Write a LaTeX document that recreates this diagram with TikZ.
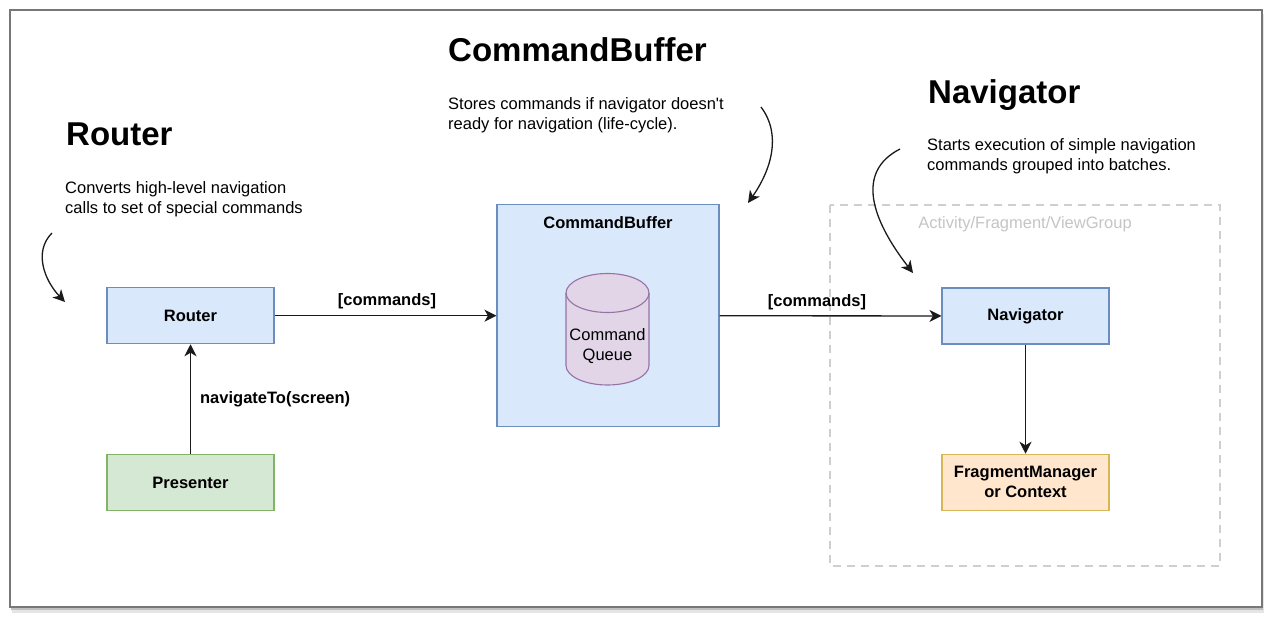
\documentclass[tikz,border=0pt]{standalone}
\usepackage{fontspec}
\setmainfont{Liberation Sans}
\usetikzlibrary{arrows.meta}
\definecolor{blueF}{HTML}{DAE8FC}
\definecolor{blueS}{HTML}{6C8EBF}
\definecolor{greenF}{HTML}{D5E8D4}
\definecolor{greenS}{HTML}{82B366}
\definecolor{orangeF}{HTML}{FFE6CC}
\definecolor{orangeS}{HTML}{D6B656}
\definecolor{purpF}{HTML}{E1D5E7}
\definecolor{purpS}{HTML}{9673A6}
\definecolor{frameC}{HTML}{777777}
\definecolor{dashC}{HTML}{CFCFCF}
\definecolor{lineC}{HTML}{1A1A1A}
\newcommand{\straightquote}{\XeTeXglyph\XeTeXcharglyph"0027\relax}
\tikzset{
  basefont/.style={font=\fontsize{16.5}{20}\selectfont},
  titletext/.style={font=\fontsize{33}{40}\selectfont\bfseries, anchor=base west, inner sep=0pt},
  desctext/.style={basefont, anchor=base west, inner sep=0pt},
  box/.style={draw, line width=1.1pt, minimum width=167pt, minimum height=56pt, inner sep=0pt,
    font=\fontsize{16.5}{20}\selectfont\bfseries, align=center},
  bluebox/.style={box, fill=blueF, draw=blueS},
  greenbox/.style={box, fill=greenF, draw=greenS},
  orangebox/.style={box, fill=orangeF, draw=orangeS},
  tipstyle/.style={-{Stealth[length=12pt,width=12pt,inset=3.5pt]}},
  conn/.style={draw=lineC, line width=1.3pt, tipstyle},
  curv/.style={draw=lineC, line width=1.3pt, tipstyle},
  elabel/.style={font=\fontsize{16.5}{20}\selectfont\bfseries, inner sep=0pt},
}
\begin{document}
\begin{tikzpicture}[x=1pt,y=-1pt]
\useasboundingbox (0,0) rectangle (1280,626);
\fill[white] (0,0) rectangle (1280,626);
% frame with shadow
\fill[black!10] (12,14) rectangle (1264,613);
\fill[black!25] (11,11) rectangle (1263,610);
\draw[frameC, line width=1.5pt, fill=white] (10,10) rectangle (1262,607);

% titles
\node[titletext] (tRouter) at (66,145) {Router};
\node[titletext] (tCB) at (448,61.5) {CommandBuffer};
\node[titletext] (tNav) at (928,103) {Navigator};

% descriptions
\node[desctext] (dR1) at (65,193) {Converts high-level navigation};
\node[desctext] (dR2) at (65,213) {calls to set of special commands};
\node[desctext] (dC1) at (448,109.5) {Stores commands if navigator doesn\straightquote t};
\node[desctext] (dC2) at (448,129.5) {ready for navigation (life-cycle).};
\node[desctext] (dN1) at (927,150.5) {Starts execution of simple navigation};
\node[desctext] (dN2) at (927,170) {commands grouped into batches.};

% dashed group
\draw[dashC, line width=1.8pt, dash pattern=on 8pt off 6pt] (830,205) rectangle (1220,566);
\node[basefont, text=dashC!95!black, inner sep=0pt] (grp) at (1025,224) {Activity/Fragment/ViewGroup};

% command buffer container
\node[draw=blueS, fill=blueF, line width=1.1pt, minimum width=222pt, minimum height=222pt, inner sep=0pt] (cb) at (608,315.7) {};
\node[font=\fontsize{16.5}{20}\selectfont\bfseries, inner sep=0pt] (cbl) at (608,223) {CommandBuffer};

% cylinder
\draw[draw=purpS, fill=purpF, line width=1.1pt]
  (566,293) -- (566,365.5) arc[start angle=180, end angle=0, x radius=41.5, y radius=19.5]
  -- (649,293) arc[start angle=0, end angle=-180, x radius=41.5, y radius=19.5] -- cycle;
\draw[draw=purpS, line width=1.1pt] (566,293) arc[start angle=180, end angle=0, x radius=41.5, y radius=19.5];
\node[basefont, align=center, inner sep=0pt] (queue) at (607.5,346) {Command\\Queue};

% boxes
\node[bluebox] (router) at (190.5,315.7) {Router};
\node[greenbox] (presenter) at (190.5,482.5) {Presenter};
\node[bluebox] (nav) at (1025.5,316) {Navigator};
\node[orangebox] (fm) at (1025.5,482.3) {FragmentManager\\or Context};

% connectors
\draw[conn] (router) -- node[elabel, pos=0.5, yshift=14pt, xshift=1.5pt] {[commands]} (cb);
\draw[conn] (cb) -- node[elabel, pos=0.5, yshift=14pt, xshift=-13.5pt] {[commands]} (nav);
\draw[conn] (presenter) -- node[elabel, pos=0.5, anchor=west, xshift=9pt] {navigateTo(screen)} (router);
\draw[conn] (nav) -- (fm);

% curved pointer arrows
\coordinate (ra1) at (52,233);
\coordinate (ra2) at (65,302);
\draw[curv] (ra1) .. controls (33,252) and (45,281) .. (ra2);
\coordinate (ca1) at (761,107);
\coordinate (ca2) at (748,203);
\draw[curv] (ca1) .. controls (782,135) and (771,170) .. (ca2);
\coordinate (na1) at (900,149);
\coordinate (na2) at (913,273);
\draw[curv] (na1) .. controls (855,172) and (872,220) .. (na2);
\end{tikzpicture}
\end{document}
